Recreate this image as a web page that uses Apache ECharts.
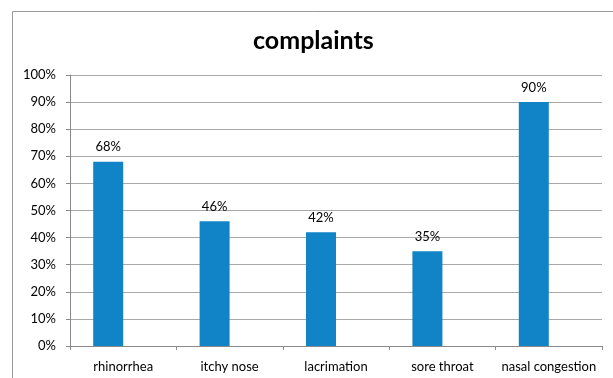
<!DOCTYPE html>
<html>
<head>
<meta charset="utf-8">
<script src="https://cdn.jsdelivr.net/npm/echarts@6/dist/echarts.min.js"></script>
<style>
  html, body { margin: 0; padding: 0; background: #fff; }
  #chart { width: 613px; height: 378px; }
</style>
</head>
<body>
<div id="chart"></div>
<script>
// Complaint categories and share of patients reporting each one
const categories = ['rhinorrhea', 'itchy nose', 'lacrimation', 'sore throat', 'nasal congestion'];
const complaintShare = [68, 46, 42, 35, 90];
const emptySlot = [null, null, null, null, null];

const chart = echarts.init(document.getElementById('chart'));
const font = 'Lato, "Open Sans", sans-serif';

chart.setOption({
  animation: false,
  graphic: [{
    type: 'rect',
    shape: { x: 12.5, y: 11.5, width: 700, height: 500 },
    style: { fill: 'none', stroke: '#9a9a9a', lineWidth: 1 },
    silent: true
  }, {
    type: 'text',
    left: 253,
    top: 28,
    style: { text: 'complaints', font: 'bold 25px Lato, sans-serif', fill: '#000' },
    silent: true
  }],
  grid: { left: 70, right: 11, top: 75, bottom: 32 },
  xAxis: {
    type: 'category',
    data: categories,
    axisLine: { lineStyle: { color: '#8a8a8a' } },
    axisTick: { show: true, length: 4, lineStyle: { color: '#8a8a8a' } },
    axisLabel: { fontFamily: font, fontSize: 13, color: '#000', margin: 14, interval: 0 }
  },
  yAxis: {
    type: 'value',
    min: 0,
    max: 100,
    interval: 10,
    axisLine: { show: true, lineStyle: { color: '#8a8a8a' } },
    axisTick: { show: true, length: 4, lineStyle: { color: '#8a8a8a' } },
    axisLabel: { fontFamily: font, fontSize: 13, color: '#000', formatter: '{value}%', margin: 14 },
    splitLine: { lineStyle: { color: '#a8a8a8' } }
  },
  series: [{
    type: 'bar',
    data: complaintShare,
    barWidth: 30,
    barGap: '0%',
    itemStyle: { color: '#1184c8' },
    label: {
      show: true,
      position: 'top',
      formatter: '{c}%',
      fontFamily: font,
      fontSize: 13,
      color: '#000',
      distance: 8
    }
  }, {
    type: 'bar',
    data: emptySlot,
    barWidth: 30
  }]
});
</script>
</body>
</html>
